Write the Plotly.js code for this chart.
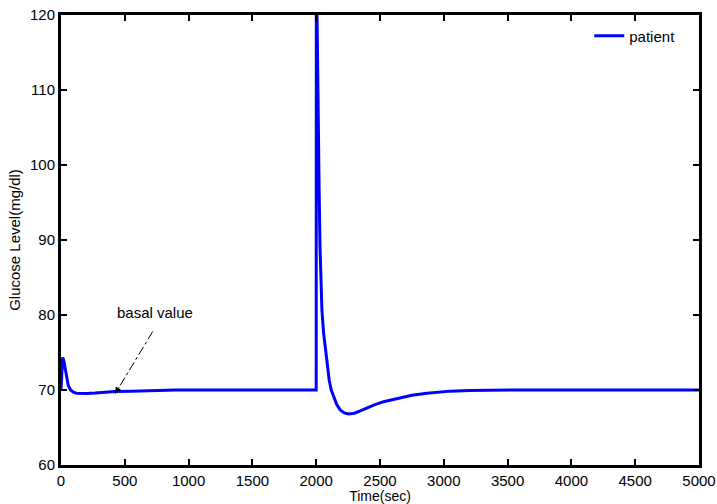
<!DOCTYPE html>
<html>
<head>
<meta charset="utf-8">
<script src="https://cdn.plot.ly/plotly-3.0.1.min.js"></script>
<style>
  html, body { margin: 0; padding: 0; background: #ffffff; }
  #chart { width: 717px; height: 504px; }
</style>
</head>
<body>
<div id="chart"></div>
<script>
// ---- data ----
var timeSec = [0, 5, 13, 22, 31, 45, 57, 75, 97, 120, 149, 200, 267, 350, 424, 550, 700, 900, 1200, 1600, 2000,
               2001, 2012, 2023, 2030, 2036, 2045, 2058, 2071, 2085, 2102, 2118, 2136, 2160, 2188, 2220, 2254, 2300,
               2350, 2398, 2460, 2528, 2600, 2659, 2750, 2868, 2950, 3051, 3200, 3350, 3600, 4000, 4500, 5000];
var glucose = [70, 72.6, 74.35, 73.9, 73.0, 71.6, 70.6, 70.0, 69.7, 69.58, 69.55, 69.55, 69.6, 69.7, 69.8, 69.85, 69.93, 70, 70, 70, 70,
               128, 108, 96.7, 89, 84.5, 80.6, 77.6, 75.6, 73.4, 71.3, 70.0, 69.1, 68.1, 67.35, 66.95, 66.8, 66.9,
               67.25, 67.64, 68.05, 68.44, 68.75, 69.0, 69.3, 69.56, 69.72, 69.85, 69.95, 70, 70, 70, 70, 70];
var seriesName = 'patient';
var xTicks = [0, 500, 1000, 1500, 2000, 2500, 3000, 3500, 4000, 4500, 5000];
var yTicks = [60, 70, 80, 90, 100, 110, 120];
var xTitle = 'Time(sec)';
var yTitle = 'Glucose Level(mg/dl)';
var noteText = 'basal value';
var noteTextPos = [737, 80.4];
var arrowTail = [719, 77.8];
var arrowHead = [424, 69.5];

var FONT = 'Liberation Sans, Arial, Helvetica, sans-serif';

var trace = {
  x: timeSec, y: glucose, type: 'scatter', mode: 'lines', name: seriesName,
  line: { color: '#0000ff', width: 3 }, cliponaxis: true
};

function axisBase() {
  return {
    showline: true, linecolor: '#000', linewidth: 3, mirror: 'ticks',
    ticks: 'inside', ticklen: 6, tickwidth: 2, tickcolor: '#000',
    showgrid: false, zeroline: false,
    tickfont: { family: FONT, size: 15, color: '#000' }
  };
}
var xa = axisBase();
xa.range = [0, 5000]; xa.tickmode = 'array'; xa.tickvals = xTicks; xa.ticktext = xTicks.map(String);
xa.title = { text: xTitle, font: { family: FONT, size: 14, color: '#000' }, standoff: 7 };
var ya = axisBase();
ya.range = [60, 120]; ya.tickmode = 'array'; ya.tickvals = yTicks; ya.ticktext = yTicks.map(String);
ya.title = { text: yTitle, font: { family: FONT, size: 15, color: '#000' }, standoff: 6 };

var layout = {
  width: 717, height: 504,
  margin: { l: 61, r: 18, t: 15, b: 39, pad: 0 },
  paper_bgcolor: '#fff', plot_bgcolor: '#fff',
  font: { family: FONT, size: 15, color: '#000' },
  xaxis: xa, yaxis: ya,
  showlegend: true,
  legend: { x: 0.828, y: 0.99, xanchor: 'left', yanchor: 'top', bgcolor: 'rgba(0,0,0,0)',
            borderwidth: 0, font: { family: FONT, size: 15, color: '#000' } },
  shapes: [{
    type: 'line', xref: 'x', yref: 'y',
    x0: arrowTail[0], y0: arrowTail[1], x1: arrowHead[0], y1: arrowHead[1],
    line: { color: '#000', width: 1, dash: 'dashdot' }
  }],
  annotations: [
    { x: noteTextPos[0], y: noteTextPos[1], xref: 'x', yref: 'y', text: noteText, showarrow: false,
      font: { family: FONT, size: 15, color: '#000' } },
    { x: arrowHead[0], y: arrowHead[1], xref: 'x', yref: 'y', text: '', showarrow: true,
      ax: 5, ay: -8, arrowhead: 2, arrowsize: 1.3, arrowwidth: 1, arrowcolor: '#000' }
  ]
};

Plotly.newPlot('chart', [trace], layout, { displayModeBar: false, staticPlot: true });
</script>
</body>
</html>
